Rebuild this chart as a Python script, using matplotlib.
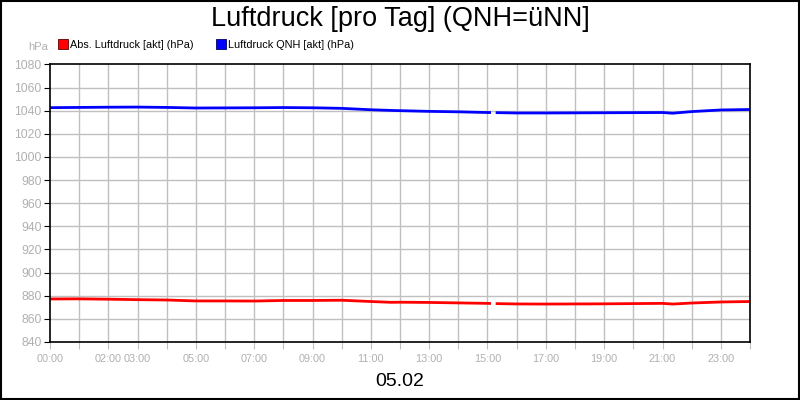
import numpy as np
import matplotlib
matplotlib.use('Agg')
import matplotlib.pyplot as plt
from matplotlib.lines import Line2D
from matplotlib.patches import Rectangle

plt.rcParams['font.family'] = ['Liberation Sans', 'DejaVu Sans']

# hours of the day, NaN marks the data gap around 15:10
hours = [0, 1, 2, 3, 4, 5, 6, 7, 8, 9, 10, 11, 11.7, 12, 13, 14, 15, 15.12,
         15.2, 15.28, 16, 17, 18, 19, 20, 21, 21.35, 22, 23, 24]
qnh = [1042.6, 1042.8, 1043.0, 1043.1, 1042.8, 1042.3, 1042.4, 1042.5, 1042.7, 1042.5,
       1042.0, 1040.8, 1040.2, 1040.0, 1039.4, 1039.0, 1038.4, 1038.4,
       np.nan, 1038.3, 1038.0, 1038.0, 1038.1, 1038.2, 1038.3, 1038.4, 1037.8,
       1039.2, 1040.6, 1041.0]
abs_p = [877.2, 877.3, 877.0, 876.6, 876.3, 875.5, 875.5, 875.4, 875.9, 875.9,
         876.1, 875.0, 874.3, 874.4, 874.2, 873.8, 873.4, 873.3,
         np.nan, 873.2, 872.9, 872.8, 872.9, 873.0, 873.2, 873.4, 872.8,
         873.7, 874.6, 875.0]

tick_hours = [0, 2, 3, 5, 7, 9, 11, 13, 15, 17, 19, 21, 23]
tick_labels = ['%02d:00' % h for h in tick_hours]
date_label = '05.02'
title = 'Luftdruck [pro Tag] (QNH=üNN]'

fig = plt.figure(figsize=(8, 4), dpi=100)
ax = fig.add_axes([0.0625, 0.145, 0.875, 0.694])

grid_col = '#c0c0c0'
ax.set_xlim(0, 24)
ax.set_ylim(840, 1080)
for h in range(1, 24):
    ax.axvline(h, color=grid_col, lw=1, zorder=0)
for v in range(860, 1080, 20):
    ax.axhline(v, color=grid_col, lw=1, zorder=0)

ax.plot(hours, abs_p, color='#ff0000', lw=2.0, solid_capstyle='butt')
ax.plot(hours, qnh, color='#0000ff', lw=2.0, solid_capstyle='butt')

ax.set_xticks(range(0, 25))
ax.set_xticklabels([tick_labels[tick_hours.index(h)] if h in tick_hours else '' for h in range(25)])
ax.set_yticks(range(840, 1081, 20))
ax.tick_params(axis='x', colors=grid_col, labelcolor='#b0b0b0', labelsize=7.8, length=5, pad=4)
ax.tick_params(axis='y', colors='black', labelcolor='#b0b0b0', labelsize=8.7, length=4, pad=2)
for s in ax.spines.values():
    s.set_color('black')
    s.set_linewidth(1.2)

ax.set_xlabel(date_label, fontsize=14, labelpad=6)
fig.text(0.5, 0.953, title, ha='center', va='center', fontsize=19.5)
fig.text(0.06, 0.882, 'hPa', ha='right', va='center', fontsize=8, color='#b0b0b0')

handles = [Line2D([], [], ls='', marker='s', ms=6.5, mfc='#ff0000', mec='#600000', mew=0.6),
           Line2D([], [], ls='', marker='s', ms=6.5, mfc='#0000ff', mec='#000060', mew=0.6)]
fig.legend(handles, ['Abs. Luftdruck [akt] (hPa)', 'Luftdruck QNH [akt] (hPa)'],
           loc='center left', bbox_to_anchor=(0.066, 0.888), ncol=2, frameon=False,
           fontsize=7.8, handlelength=0.8, handletextpad=0.3, columnspacing=2.1, borderpad=0)

fig.patches.append(Rectangle((0.001, 0.002), 0.998, 0.996, transform=fig.transFigure,
                             fill=False, edgecolor='black', lw=1.5))

fig.savefig('out.png', dpi=100)
